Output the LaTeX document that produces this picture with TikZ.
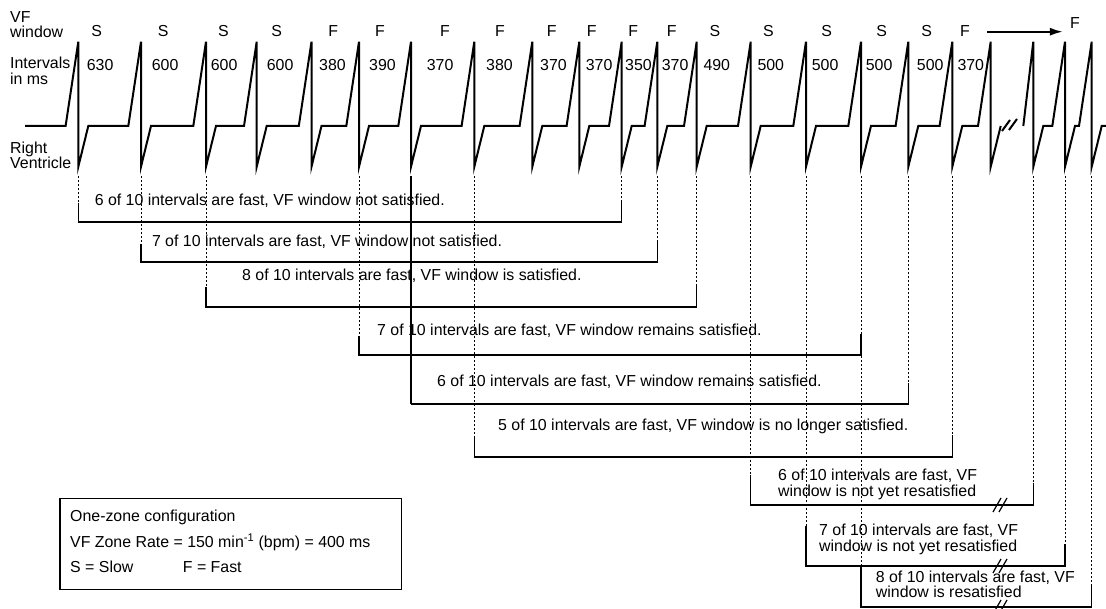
\documentclass[tikz,border=0pt]{standalone}
\usepackage{fontspec}
\setmainfont{Liberation Sans}
\usetikzlibrary{arrows.meta}
\begin{document}
\begin{tikzpicture}[x=1pt,y=-1pt,
  ecg/.style={line width=2pt},
  brk/.style={line width=1.2pt},
  dots/.style={line width=1pt,dash pattern=on 2pt off 2pt},
  txt/.style={font=\fontsize{15.9}{16}\selectfont,anchor=base west},
  mid/.style={font=\fontsize{15.9}{16}\selectfont,anchor=base}]
\tikzstyle{every node}+=[inner sep=0pt]
\fill [white] (0,0) rectangle (1106,609);
\useasboundingbox (0,0) rectangle (1106,609);
% spike positions
\foreach \x [count=\i] in {78.3,141,206,256.7,311.5,359,411,474.3,532.3,579.3,621.7,657.3,696.7,750.7,806,861,908.3,952.3,990.7,1033.3,1065,1091.7}
  \coordinate (s\i) at (\x,176);
% trace
\draw [ecg] (25,126) foreach \x in {78.3,141,206,256.7,311.5,359,411,474.3,532.3,579.3,621.7,657.3,696.7,750.7,806,861,908.3,952.3,990.7}
  {-- (\x-12.7,126) -- (\x,41.7) -- (\x,166.7) -- (\x+10,126)};
\draw [ecg] (1023.3,126) -- (1033.3,41.7) -- (1033.3,166.7) -- (1043.3,126) -- (1052.3,126)
  -- (1065,41.7) -- (1065,166.7) -- (1075,126) -- (1079,126)
  -- (1091.7,41.7) -- (1091.7,166.7) -- (1101.7,126) -- (1106,126);
\draw [ecg] (1002,131) -- (1010,120);
\draw [ecg] (1009,130) -- (1017,119);
% row labels
\node [txt] (vf) at (10,22.5) {VF};
\node [txt] (vfw) at (10,38) {window};
\node [txt] (int) at (10,69) {Intervals};
\node [txt] (ims) at (10,85) {in ms};
\node [txt] (rv) at (10,153.3) {Right};
\node [txt] (rvv) at (10,168.3) {Ventricle};
% window marks
\foreach \x/\t [count=\i] in {96.7/S,163.3/S,223.3/S,276.7/S,333.3/F,380/F,445/F,500/F,551.7/F,591.7/F,633.3/F,671.7/F,715/S,768.3/S,826.7/S,881.7/S,926.7/S,965/F}
  \node [mid] (w\i) at (\x,36.7) {\t};
\node [mid] (wf) at (1075,28.3) {F};
\coordinate (arr) at (987,31.7);
\draw [line width=2pt,-{Latex[length=13pt,width=8pt]},shorten >=7pt] (arr) -- (arr -| wf.west);
% intervals
\foreach \x/\t [count=\i] in {86.7/630,151.7/600,210.7/600,266.7/600,319/380,369/390,426.7/370,486/380,540/370,585.7/370,625/350,661.7/370,703.3/490,757.3/500,811.7/500,865.7/500,916.7/500,957.3/370}
  \node [txt] (iv\i) at (\x,70.7) {\t};
% dotted drop lines
\foreach \s/\e in {1/203,2/244,3/287,6/336,8/436,11/201,12/242,13/286,14/475,15/526,16/565,17/383,18/435,20/483,21/544,22/584}
  \draw [dots] (s\s) -- (s\s |- 0,\e);
\draw [brk] (s7) -- (s7 |- 0,404);
% windows
\foreach \a/\b/\y/\l/\r in {1/11/222/203/201,2/12/262/244/242,3/13/307/287/286,6/16/355/336/334,7/17/404/404/383,8/18/457/436/435,14/20/505/475/483,15/21/566/526/544,16/22/607/565/584}
  \draw [brk] (s\a |- 0,\l) -- (s\a |- 0,\y) -- (s\b |- 0,\y) -- (s\b |- 0,\r);
\foreach \y in {505,566,607} {
  \draw [brk] (993,\y+7) -- (1001,\y-7);
  \draw [brk] (999,\y+7) -- (1007,\y-7);
}
\node [txt] (t1) at (94.6,206) {6 of 10 intervals are fast, VF window not satisfied.};
\node [txt] (t2) at (151.8,247) {7 of 10 intervals are fast, VF window not satisfied.};
\node [txt] (t3) at (242,281) {8 of 10 intervals are fast, VF window is satisfied.};
\node [txt] (t4) at (377,336) {7 of 10 intervals are fast, VF window remains satisfied.};
\node [txt] (t5) at (437,387) {6 of 10 intervals are fast, VF window remains satisfied.};
\node [txt] (t6) at (498,431) {5 of 10 intervals are fast, VF window is no longer satisfied.};
\node [txt] (t7) at (778,480) {6 of 10 intervals are fast, VF};
\node [txt] (t7b) at (778,496) {window is not yet resatisfied};
\node [txt] (t8) at (819,535) {7 of 10 intervals are fast, VF};
\node [txt] (t8b) at (819,551) {window is not yet resatisfied};
\node [txt] (t9) at (875.7,582) {8 of 10 intervals are fast, VF};
\node [txt] (t9b) at (875.7,597.5) {window is resatisfied};
% legend
\node [draw,brk,anchor=north west,minimum width=341.7pt,minimum height=91pt] (cfg) at (59.3,498) {};
\node [txt] (c1) at (70,521.7) {One-zone configuration};
\node [txt] (c2) at (70,547.7) {VF Zone Rate = 150 min\textsuperscript{-1} (bpm) = 400 ms};
\node [txt] (c3) at (70,572.7) {S = Slow};
\node [txt] (c4) at (182.7,572.7) {F = Fast};
\end{tikzpicture}
\end{document}
